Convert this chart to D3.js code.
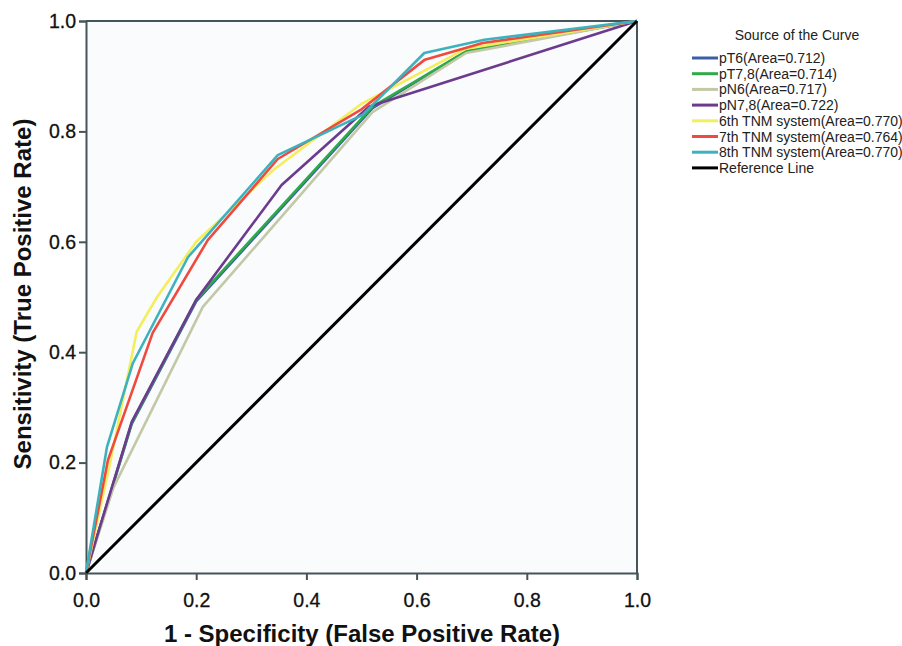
<!DOCTYPE html>
<html><head><meta charset="utf-8">
<script src="https://cdn.jsdelivr.net/npm/d3@7"></script>
<style>body{margin:0;background:#fff;}svg{display:block;font-family:"Liberation Sans",Arial,sans-serif;}</style>
</head><body>
<svg id="c" width="902" height="646"></svg>
<script>
// Series (x = 1 - specificity, y = sensitivity)
const seriesNames = ["pT6(Area=0.712)","pT7,8(Area=0.714)","pN6(Area=0.717)","pN7,8(Area=0.722)","6th TNM system(Area=0.770)","7th TNM system(Area=0.764)","8th TNM system(Area=0.770)","Reference Line"];
const seriesColors = ["#3b5fa6","#2eaa48","#c3c9a6","#6c3b8e","#f3ef5c","#ef4a3d","#3bb2bd","#000000"];
const pT6   = [[0,0],[0.083,0.27],[0.2,0.492],[0.52,0.842],[0.69,0.945],[1,1]];
const pT78  = [[0,0],[0.083,0.272],[0.2,0.495],[0.52,0.845],[0.69,0.945],[1,1]];
const pN6   = [[0,0],[0.05,0.155],[0.212,0.482],[0.52,0.835],[0.69,0.942],[1,1]];
const pN78  = [[0,0],[0.083,0.274],[0.2,0.495],[0.355,0.703],[0.514,0.845],[1,1]];
const tnm6  = [[0,0],[0.045,0.205],[0.092,0.437],[0.129,0.5],[0.2,0.6],[0.34,0.73],[0.5,0.85],[0.69,0.95],[1,1]];
const tnm7  = [[0,0],[0.04,0.205],[0.121,0.435],[0.221,0.603],[0.348,0.75],[0.5,0.84],[0.615,0.93],[0.72,0.96],[1,1]];
const tnm8  = [[0,0],[0.038,0.228],[0.085,0.38],[0.185,0.572],[0.348,0.757],[0.502,0.83],[0.614,0.942],[0.723,0.966],[1,1]];
const refLine = [[0,0],[1,1]];
const seriesData = [pT6,pT78,pN6,pN78,tnm6,tnm7,tnm8,refLine];
const tickValues = [0,0.2,0.4,0.6,0.8,1.0];

const svg = d3.select("#c");
const L=86, R=637, T=21, B=573;
const x = d3.scaleLinear().domain([0,1]).range([L,R]);
const y = d3.scaleLinear().domain([0,1]).range([B,T]);

svg.append("rect").attr("x",L).attr("y",T).attr("width",R-L).attr("height",B-T).attr("fill","#fafbfd");

const axisColor = "#44555a";
const gx = svg.append("g").attr("transform",`translate(0,${B})`)
  .call(d3.axisBottom(x).tickValues(tickValues).tickFormat(d3.format(".1f")).tickSizeOuter(0).tickSize(7).tickPadding(8));
const gy = svg.append("g").attr("transform",`translate(${L},0)`)
  .call(d3.axisLeft(y).tickValues(tickValues).tickFormat(d3.format(".1f")).tickSizeOuter(0).tickSize(7).tickPadding(3));
[gx,gy].forEach(g=>{
  g.selectAll("path,line").attr("stroke",axisColor).attr("stroke-width",2);
  g.selectAll("text").attr("font-size",19.5).attr("fill","#111").attr("stroke","#111").attr("stroke-width",0.3)
    .attr("font-family","Liberation Sans, Arial, sans-serif");
});
gx.selectAll("text").attr("dy","0.95em");
// top and right frame
svg.append("line").attr("x1",L).attr("x2",R).attr("y1",T).attr("y2",T).attr("stroke",axisColor).attr("stroke-width",2);
svg.append("line").attr("x1",R).attr("x2",R).attr("y1",T).attr("y2",B).attr("stroke",axisColor).attr("stroke-width",2);

const line = d3.line().x(d=>x(d[0])).y(d=>y(d[1]));
seriesData.forEach((s,i)=>{
  svg.append("path").datum(s).attr("d",line).attr("fill","none")
    .attr("stroke",seriesColors[i]).attr("stroke-width",i===7?3:2.6).attr("stroke-linejoin","round");
});

// axis titles
svg.append("text").attr("x",362).attr("y",642).attr("text-anchor","middle")
  .attr("font-size",24).attr("font-weight","bold").attr("fill","#111").text("1 - Specificity (False Positive Rate)");
svg.append("text").attr("transform",`translate(31,294) rotate(-90)`).attr("text-anchor","middle")
  .attr("font-size",24).attr("font-weight","bold").attr("fill","#111").text("Sensitivity (True Positive Rate)");

// legend
const lg = svg.append("g");
lg.append("text").attr("x",797).attr("y",40).attr("text-anchor","middle").attr("font-size",14).attr("fill","#222").text("Source of the Curve");
seriesNames.forEach((n,i)=>{
  const yy = 58 + i*15.7;
  lg.append("line").attr("x1",692).attr("x2",718).attr("y1",yy).attr("y2",yy).attr("stroke",seriesColors[i]).attr("stroke-width",3);
  lg.append("text").attr("x",719).attr("y",yy+5).attr("font-size",14).attr("fill","#222").text(n);
});
</script>
</body></html>
